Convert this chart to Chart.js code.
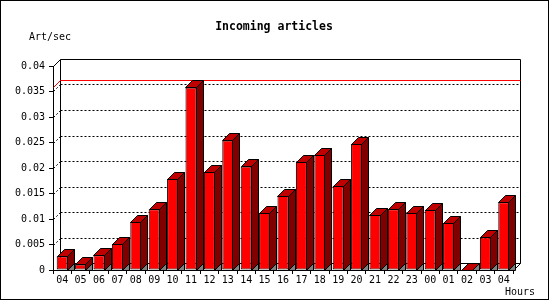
<!DOCTYPE html>
<html>
<head>
<meta charset="utf-8">
<script src="https://cdn.jsdelivr.net/npm/chart.js@4"></script>
<style>
  body { margin: 0; background: #fff; }
  canvas { display: block; }
</style>
</head>
<body>
<canvas id="canvasChart" width="550" height="300"></canvas>
<script>
// hourly buckets, oldest first
const hours = ['04', '05', '06', '07', '08', '09', '10', '11', '12', '13', '14', '15', '16',
  '17', '18', '19', '20', '21', '22', '23', '00', '01', '02', '03', '04'];
const artPerSec = [0.0027, 0.0011, 0.0029, 0.0051, 0.0094, 0.0119, 0.0179, 0.0358, 0.0192,
  0.0254, 0.0203, 0.0112, 0.0146, 0.0212, 0.0226, 0.0165, 0.0247, 0.0108, 0.0119, 0.0112,
  0.0118, 0.0092, 0, 0.0064, 0.0133];
const yTickValues = [0, 0.005, 0.01, 0.015, 0.02, 0.025, 0.03, 0.035, 0.04];

const FONT = 'DejaVu Sans Mono';
const DEPTH = 7;

function poly(ctx, pts, fill) {
  ctx.beginPath();
  ctx.moveTo(pts[0][0], pts[0][1]);
  for (let i = 1; i < pts.length; i++) ctx.lineTo(pts[i][0], pts[i][1]);
  ctx.closePath();
  ctx.fillStyle = fill;
  ctx.fill();
  ctx.strokeStyle = '#000';
  ctx.lineWidth = 1;
  ctx.stroke();
}

const wallPlugin = {
  id: 'wall',
  beforeDatasetsDraw(chart) {
    const { ctx, chartArea: a, scales: { y } } = chart;
    const d = DEPTH;
    const L = Math.round(a.left) + 0.5, R = Math.round(a.right) + 0.5;
    const B = Math.round(a.bottom) + 0.5;
    const T = Math.round(y.getPixelForValue(yTickValues[yTickValues.length - 1])) + 0.5;
    ctx.save();
    ctx.lineWidth = 1;

    // dotted grid on back wall, with short diagonals to the front axis
    ctx.strokeStyle = '#000';
    ctx.setLineDash([2, 2]);
    yTickValues.slice(1, -1).forEach(v => {
      const py = Math.round(y.getPixelForValue(v)) + 0.5;
      ctx.beginPath();
      ctx.moveTo(L + d, py - d);
      ctx.lineTo(R + d, py - d);
      ctx.moveTo(L, py);
      ctx.lineTo(L + d, py - d);
      ctx.stroke();
    });
    ctx.setLineDash([]);

    // back wall frame + floor edges
    ctx.beginPath();
    ctx.rect(L + d, T - d, R - L, B - T);
    ctx.moveTo(L, T);
    ctx.lineTo(L + d, T - d);
    ctx.moveTo(R, B);
    ctx.lineTo(R + d, B - d);
    ctx.stroke();

    // max value line
    const maxY = Math.round(y.getPixelForValue(Math.max(...artPerSec))) + 0.5;
    ctx.strokeStyle = '#ff0000';
    ctx.beginPath();
    ctx.moveTo(L, maxY);
    ctx.lineTo(L + d, maxY - d);
    ctx.lineTo(R + d, maxY - d);
    ctx.stroke();
    ctx.restore();
  },
  afterDatasetsDraw(chart) {
    const { ctx } = chart;
    const d = DEPTH;
    ctx.save();
    chart.getDatasetMeta(0).data.forEach(bar => {
      const { x, y, width, base } = bar.getProps(['x', 'y', 'width', 'base'], true);
      const l = Math.round(x - width / 2) + 0.5;
      const r = Math.round(x + width / 2) - 0.5;
      const t = Math.round(y) + 0.5;
      const b = Math.round(base) + 0.5;
      poly(ctx, [[r, b], [r + d, b - d], [r + d, b]], '#808080');
      poly(ctx, [[r, t], [r + d, t - d], [r + d, b - d], [r, b]], '#800000');
      poly(ctx, [[l, t], [l + d, t - d], [r + d, t - d], [r, t]], '#c00000');
    });
    ctx.restore();
  },
  afterDraw(chart) {
    const { ctx } = chart;
    ctx.save();
    ctx.fillStyle = '#000';
    ctx.textBaseline = 'middle';
    ctx.font = 'bold 11.5px "' + FONT + '"';
    ctx.textAlign = 'center';
    ctx.fillText('Incoming articles', 274, 27);
    ctx.font = '10px "' + FONT + '"';
    ctx.textAlign = 'left';
    ctx.fillText('Art/sec', 29, 37.5);
    ctx.textAlign = 'right';
    ctx.fillText('Hours', 535, 292);
    ctx.strokeStyle = '#000';
    ctx.lineWidth = 1;
    ctx.strokeRect(0.5, 0.5, 548, 299);
    ctx.restore();
  }
};

const ctx = document.getElementById('canvasChart').getContext('2d');

new Chart(ctx, {
  type: 'bar',
  data: {
    labels: hours,
    datasets: [{
      label: 'Incoming articles',
      data: artPerSec,
      backgroundColor: '#ff0000',
      borderColor: '#000',
      borderWidth: 1,
      borderSkipped: false,
      barPercentage: 0.6,
      categoryPercentage: 1,
    }]
  },
  options: {
    responsive: false,
    animation: false,
    layout: { padding: { top: 66, right: 37, bottom: 0, left: 0 } },
    plugins: {
      legend: { display: false },
      tooltip: { enabled: false },
    },
    scales: {
      x: {
        offset: true,
        grid: { offset: true, drawOnChartArea: false, tickLength: 4, color: '#000' },
        border: { color: '#000' },
        ticks: {
          color: '#000', padding: 0, maxRotation: 0, autoSkip: false,
          font: { family: FONT, size: 10 }
        },
        afterFit: s => { s.height = 30; }
      },
      y: {
        min: 0,
        max: 0.04,
        afterBuildTicks: s => { s.ticks = yTickValues.map(v => ({ value: v })); },
        grid: { drawOnChartArea: false, tickLength: 4, color: '#000' },
        border: { color: '#000' },
        ticks: {
          color: '#000', padding: 4,
          font: { family: FONT, size: 10 },
          callback: v => String(+v.toFixed(3))
        },
        afterFit: s => { s.width = 53; }
      }
    }
  },
  plugins: [wallPlugin]
});
</script>
</body>
</html>
